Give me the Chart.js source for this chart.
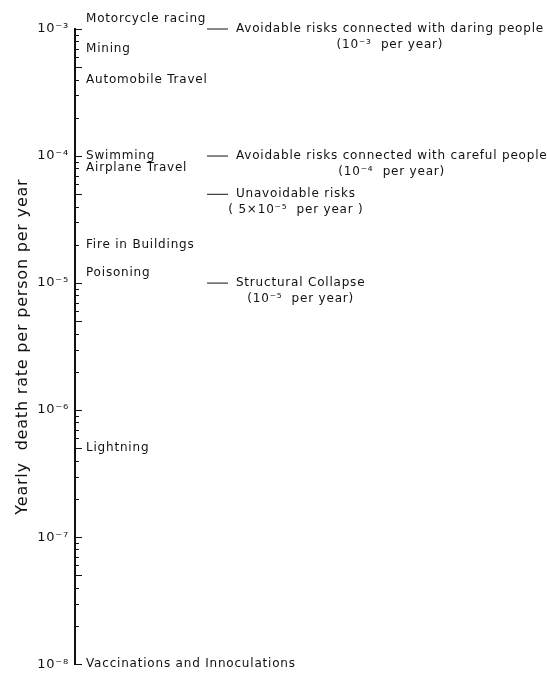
<!DOCTYPE html>
<html><head><meta charset="utf-8">
<script src="https://cdn.jsdelivr.net/npm/chart.js@4.4.0/dist/chart.umd.min.js"></script>
<style>html,body{margin:0;padding:0;background:#fff;}canvas{display:block;}</style>
</head><body>
<canvas id="c" width="547" height="678"></canvas>
<script>
// ---- data ----
const activities = ['Motorcycle racing', 'Mining', 'Automobile Travel', 'Swimming', 'Airplane Travel',
  'Fire in Buildings', 'Poisoning', 'Lightning', 'Vaccinations and Innoculations'];
const activityRates = [1.2e-3, 7e-4, 4e-4, 1e-4, 8e-5, 2e-5, 1.2e-5, 5e-7, 1e-8];

const thresholdLabels = ['Avoidable risks connected with daring people',
  'Avoidable risks connected with careful people', 'Unavoidable risks', 'Structural Collapse'];
const thresholdNotes = ['(10\u207B\u00B3  per year)', '(10\u207B\u2074  per year)',
  '( 5\u00D710\u207B\u2075  per year )', '(10\u207B\u2075  per year)'];
const thresholdRates = [1e-3, 1e-4, 5e-5, 1e-5];

const decadeValues = [1e-8, 1e-7, 1e-6, 1e-5, 1e-4, 1e-3];
const decadeLabels = ['10\u207B\u2078', '10\u207B\u2077', '10\u207B\u2076', '10\u207B\u2075', '10\u207B\u2074', '10\u207B\u00B3'];
const axisTitle = 'Yearly  death rate per person per year';

// ---- style ----
const FONT = '"DejaVu Sans", sans-serif';
const INK = '#111';
const SEG_START = 0.2797, SEG_END = 0.3242, NOTE_X = 0.341;

const tickValues = [];
decadeValues.forEach((d, i) => {
  tickValues.push(d);
  if (i < decadeValues.length - 1) for (let m = 2; m <= 9; m++) tickValues.push(+(d * m).toPrecision(3));
});

const decor = {
  id: 'decor',
  beforeDraw(chart) { chart.ctx.letterSpacing = '0.8px'; },
  afterDraw(chart) {
    const {ctx, chartArea, scales: {x, y}} = chart;
    ctx.save();
    ctx.letterSpacing = '0.8px';
    ctx.strokeStyle = INK; ctx.lineWidth = 1;
    y.ticks.forEach(t => {
      const e = Math.floor(Math.log10(t.value) + 1e-9);
      const m = Math.round(t.value / Math.pow(10, e));
      const len = (m === 1 || m === 5) ? 7 : 4;
      const py = Math.round(y.getPixelForValue(t.value)) + 0.5;
      ctx.beginPath(); ctx.moveTo(chartArea.left, py); ctx.lineTo(chartArea.left + len, py); ctx.stroke();
    });
    ctx.fillStyle = INK;
    ctx.font = '12px ' + FONT;
    ctx.textBaseline = 'middle';
    ctx.textAlign = 'left';
    activities.forEach((a, i) => ctx.fillText(a, chartArea.left + 11, y.getPixelForValue(activityRates[i])));
    thresholdLabels.forEach((lab, i) => {
      const px = x.getPixelForValue(NOTE_X);
      const py = y.getPixelForValue(thresholdRates[i]);
      ctx.textAlign = 'left';
      ctx.fillText(lab, px, py);
      const w = ctx.measureText(lab).width;
      ctx.textAlign = 'center';
      ctx.fillText(thresholdNotes[i], px + w / 2, py + 16);
    });
    ctx.restore();
  }
};

const datasets = thresholdRates.map(r => ({
  data: [{x: SEG_START, y: r}, {x: SEG_END, y: r}],
  showLine: true, pointRadius: 0, borderColor: INK, borderWidth: 1, clip: false
}));

new Chart(document.getElementById('c'), {
  type: 'scatter',
  data: {datasets},
  options: {
    responsive: false, animation: false,
    layout: {padding: {top: 29, bottom: 10, left: 0, right: 0}},
    plugins: {legend: {display: false}, tooltip: {enabled: false}},
    scales: {
      x: {type: 'linear', min: 0, max: 1, display: false},
      y: {
        type: 'logarithmic', min: 1e-8, max: 1e-3, position: 'left',
        afterBuildTicks: s => { s.ticks = tickValues.map(v => ({value: v})); },
        afterFit: s => { s.width = 75; },
        ticks: {
          autoSkip: false, padding: 6, color: INK, font: {family: FONT, size: 13},
          callback: v => {
            const i = decadeValues.findIndex(d => Math.abs(d - v) / d < 1e-6);
            return i >= 0 ? decadeLabels[i] : '';
          }
        },
        grid: {display: false, drawTicks: false},
        border: {display: true, color: INK, width: 2},
        title: {display: true, text: axisTitle, color: INK, font: {family: FONT, size: 16}, padding: {top: 13, bottom: 0}}
      }
    }
  },
  plugins: [decor]
});
</script>
</body></html>
